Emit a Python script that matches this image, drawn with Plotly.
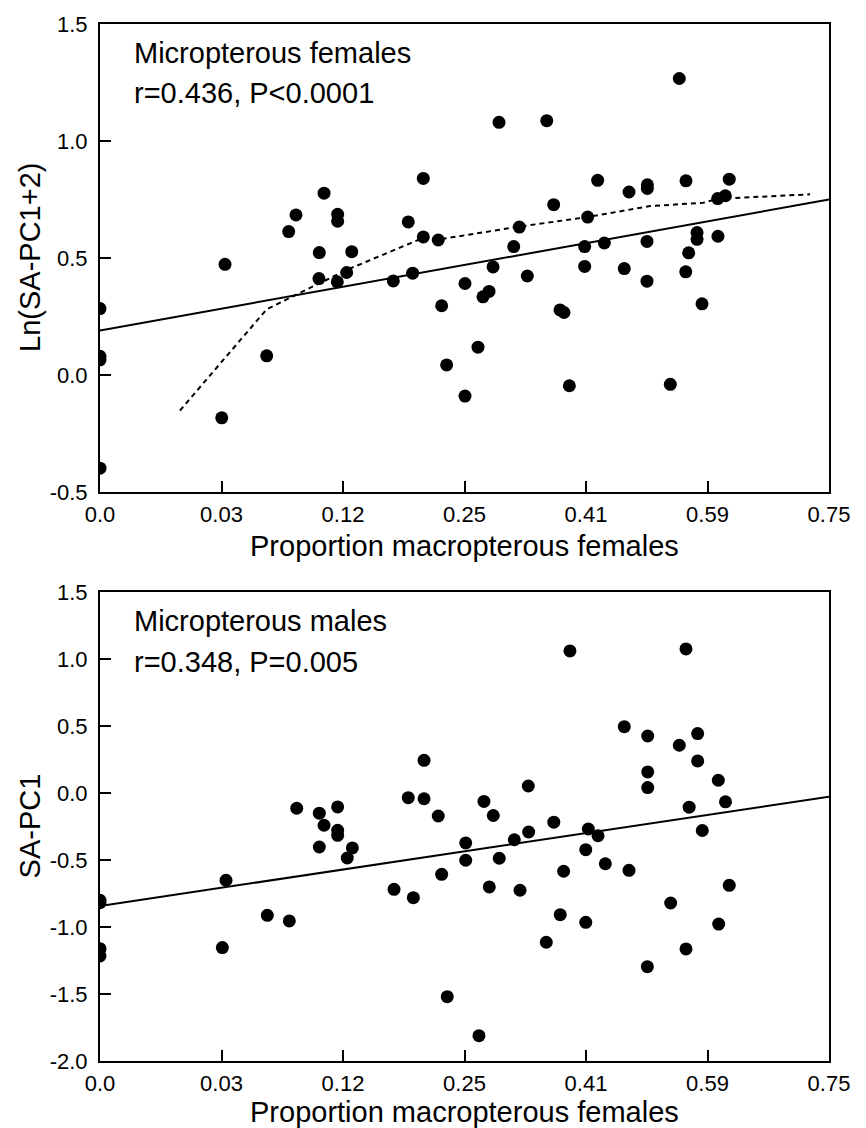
import plotly.graph_objects as go

# X values are arcsine-square-root transformed proportions (degrees); tick labels show proportions
x_tickvals = [0, 10, 20, 30, 40, 50, 60]
x_ticktext = ["0.0", "0.03", "0.12", "0.25", "0.41", "0.59", "0.75"]

# ---- Top panel: micropterous females, Ln(SA-PC1+2)
fem_x = [0, 0, 0, 0, 10.02, 10.29, 13.72, 15.53, 16.13, 18.05, 18.02, 18.44, 19.56, 19.56,
         19.53, 20.30, 20.72, 24.14, 25.37, 25.73, 26.61, 26.61, 27.84, 28.12, 28.53, 30.04,
         30.04, 31.11, 31.52, 32.02, 32.35, 32.84, 34.05, 34.51, 35.17, 36.77, 37.34, 37.86,
         38.19, 38.63, 39.89, 39.89, 40.14, 40.96, 41.51, 43.15, 43.54, 45.05, 45.05, 45.02,
         45.02, 46.94, 47.68, 48.23, 48.21, 48.45, 49.14, 49.14, 49.55, 50.84, 51.47, 50.86, 51.79]
fem_y = [0.284, 0.080, 0.065, -0.398, -0.183, 0.473, 0.082, 0.613, 0.684, 0.523, 0.412, 0.777,
         0.687, 0.657, 0.398, 0.438, 0.527, 0.402, 0.654, 0.435, 0.840, 0.590, 0.577, 0.296,
         0.043, 0.391, -0.090, 0.119, 0.334, 0.357, 0.462, 1.080, 0.549, 0.632, 0.423, 1.087,
         0.728, 0.278, 0.267, -0.046, 0.549, 0.464, 0.675, 0.832, 0.564, 0.455, 0.782, 0.813,
         0.797, 0.571, 0.401, -0.040, 1.267, 0.830, 0.441, 0.522, 0.609, 0.580, 0.304, 0.754,
         0.766, 0.593, 0.837]
fem_fit_x = [0, 60]
fem_fit_y = [0.19, 0.75]
fem_smooth_x = [6.58, 13.72, 20.30, 26.61, 27.84, 29.63, 34.51, 40.14, 45.27, 49.65, 50.84, 58.44]
fem_smooth_y = [-0.152, 0.281, 0.449, 0.586, 0.579, 0.594, 0.634, 0.675, 0.722, 0.736, 0.753, 0.772]

# ---- Bottom panel: micropterous males, SA-PC1
mal_x = [0, 0, 0, 0, 10.07, 10.37, 13.77, 15.58, 16.19, 18.05, 18.05, 18.44, 19.56, 19.56,
         19.56, 20.35, 20.77, 24.20, 25.37, 25.79, 26.67, 26.67, 27.84, 28.12, 28.58, 30.10,
         30.10, 31.19, 31.60, 32.04, 32.37, 32.86, 34.10, 34.57, 35.25, 35.28, 36.73, 37.35,
         37.88, 38.16, 38.68, 39.98, 39.98, 40.19, 40.99, 41.59, 43.15, 43.54, 45.05, 45.08,
         45.08, 45.08, 46.97, 47.68, 48.23, 48.23, 48.49, 49.19, 49.19, 49.57, 50.89, 50.92,
         51.48, 51.79]
mal_y = [-0.801, -0.819, -1.162, -1.216, -1.154, -0.651, -0.913, -0.955, -0.114, -0.151, -0.403,
         -0.241, -0.104, -0.278, -0.316, -0.485, -0.410, -0.719, -0.035, -0.781, 0.244, -0.043,
         -0.172, -0.607, -1.520, -0.373, -0.502, -1.811, -0.063, -0.701, -0.168, -0.487, -0.349,
         -0.726, 0.052, -0.291, -1.114, -0.218, -0.908, -0.584, 1.060, -0.423, -0.965, -0.269,
         -0.319, -0.528, 0.495, -0.577, -1.296, 0.425, 0.157, 0.040, -0.821, 0.356, 1.075,
         -1.164, -0.106, 0.443, 0.239, -0.280, 0.095, -0.978, -0.066, -0.689]
mal_fit_x = [0, 60]
mal_fit_y = [-0.843, -0.028]

top_yticks = [-0.5, 0.0, 0.5, 1.0, 1.5]
top_yticktext = ["-0.5", "0.0", "0.5", "1.0", "1.5"]
bot_yticks = [-2.0, -1.5, -1.0, -0.5, 0.0, 0.5, 1.0, 1.5]
bot_yticktext = ["-2.0", "-1.5", "-1.0", "-0.5", "0.0", "0.5", "1.0", "1.5"]

FONT = "Liberation Sans, Arial, Helvetica, sans-serif"

fig = go.Figure()
marker = dict(color="black", size=13, line=dict(width=0))

fig.add_trace(go.Scatter(x=fem_x, y=fem_y, mode="markers", marker=marker,
                         xaxis="x", yaxis="y", showlegend=False))
fig.add_trace(go.Scatter(x=fem_fit_x, y=fem_fit_y, mode="lines",
                         line=dict(color="black", width=2), xaxis="x", yaxis="y", showlegend=False))
fig.add_trace(go.Scatter(x=fem_smooth_x, y=fem_smooth_y, mode="lines",
                         line=dict(color="black", width=2, dash="5px,4px"),
                         xaxis="x", yaxis="y", showlegend=False))

fig.add_trace(go.Scatter(x=mal_x, y=mal_y, mode="markers", marker=marker,
                         xaxis="x2", yaxis="y2", showlegend=False))
fig.add_trace(go.Scatter(x=mal_fit_x, y=mal_fit_y, mode="lines",
                         line=dict(color="black", width=2), xaxis="x2", yaxis="y2", showlegend=False))

TICKSIZE = 22
xcommon = dict(range=[0, 60], tickvals=x_tickvals, ticktext=x_ticktext,
               showgrid=False, zeroline=False, showline=True, linecolor="black", linewidth=2,
               mirror=True, ticks="inside", ticklen=11, tickwidth=1.5, tickcolor="black",
               tickfont=dict(family=FONT, size=TICKSIZE, color="black"), ticklabelstandoff=2)
ycommon = dict(showgrid=False, zeroline=False, showline=True, linecolor="black", linewidth=2,
               mirror=True, ticks="inside", ticklen=11, tickwidth=1.5, tickcolor="black",
               tickfont=dict(family=FONT, size=TICKSIZE, color="black"),
               ticklabelstandoff=6)

top_dom = [0.5487, 1.0]
bot_dom = [0.0, 0.4523]

fig.update_layout(
    width=866, height=1128,
    margin=dict(l=100, r=37, t=24, b=67),
    paper_bgcolor="white", plot_bgcolor="white",
    font=dict(family=FONT, color="black"),
    xaxis=dict(**xcommon, domain=[0, 1], anchor="y"),
    yaxis=dict(**ycommon, domain=top_dom, range=[-0.5, 1.5], tickvals=top_yticks,
               ticktext=top_yticktext, anchor="x"),
    xaxis2=dict(**xcommon, domain=[0, 1], anchor="y2"),
    yaxis2=dict(**ycommon, domain=bot_dom, range=[-2.0, 1.5], tickvals=bot_yticks,
                ticktext=bot_yticktext, anchor="x2"),
)

ann_font = dict(family=FONT, size=29, color="black")
anns = [
    dict(text="Micropterous females", xref="x domain", yref="y domain", x=0.044, y=0.938),
    dict(text="r=0.436, P<0.0001", xref="x domain", yref="y domain", x=0.044, y=0.853),
    dict(text="Micropterous males", xref="x2 domain", yref="y2 domain", x=0.044, y=0.938),
    dict(text="r=0.348, P=0.005", xref="x2 domain", yref="y2 domain", x=0.044, y=0.851),
]
for a in anns:
    fig.add_annotation(**a, xanchor="left", yanchor="middle", showarrow=False, font=ann_font)

# axis titles
fig.add_annotation(text="Proportion macropterous females", xref="paper", yref="paper",
                   x=0.5, y=0.4966, xanchor="center", yanchor="middle", showarrow=False, font=ann_font)
fig.add_annotation(text="Proportion macropterous females", xref="paper", yref="paper",
                   x=0.5, y=-0.0492, xanchor="center", yanchor="middle", showarrow=False, font=ann_font)
fig.add_annotation(text="Ln(SA-PC1+2)", xref="paper", yref="paper", x=-0.096, y=0.7744,
                   xanchor="center", yanchor="middle", textangle=-90, showarrow=False, font=ann_font)
fig.add_annotation(text="SA-PC1", xref="paper", yref="paper", x=-0.096, y=0.2262,
                   xanchor="center", yanchor="middle", textangle=-90, showarrow=False, font=ann_font)

fig.write_html("out.html")
